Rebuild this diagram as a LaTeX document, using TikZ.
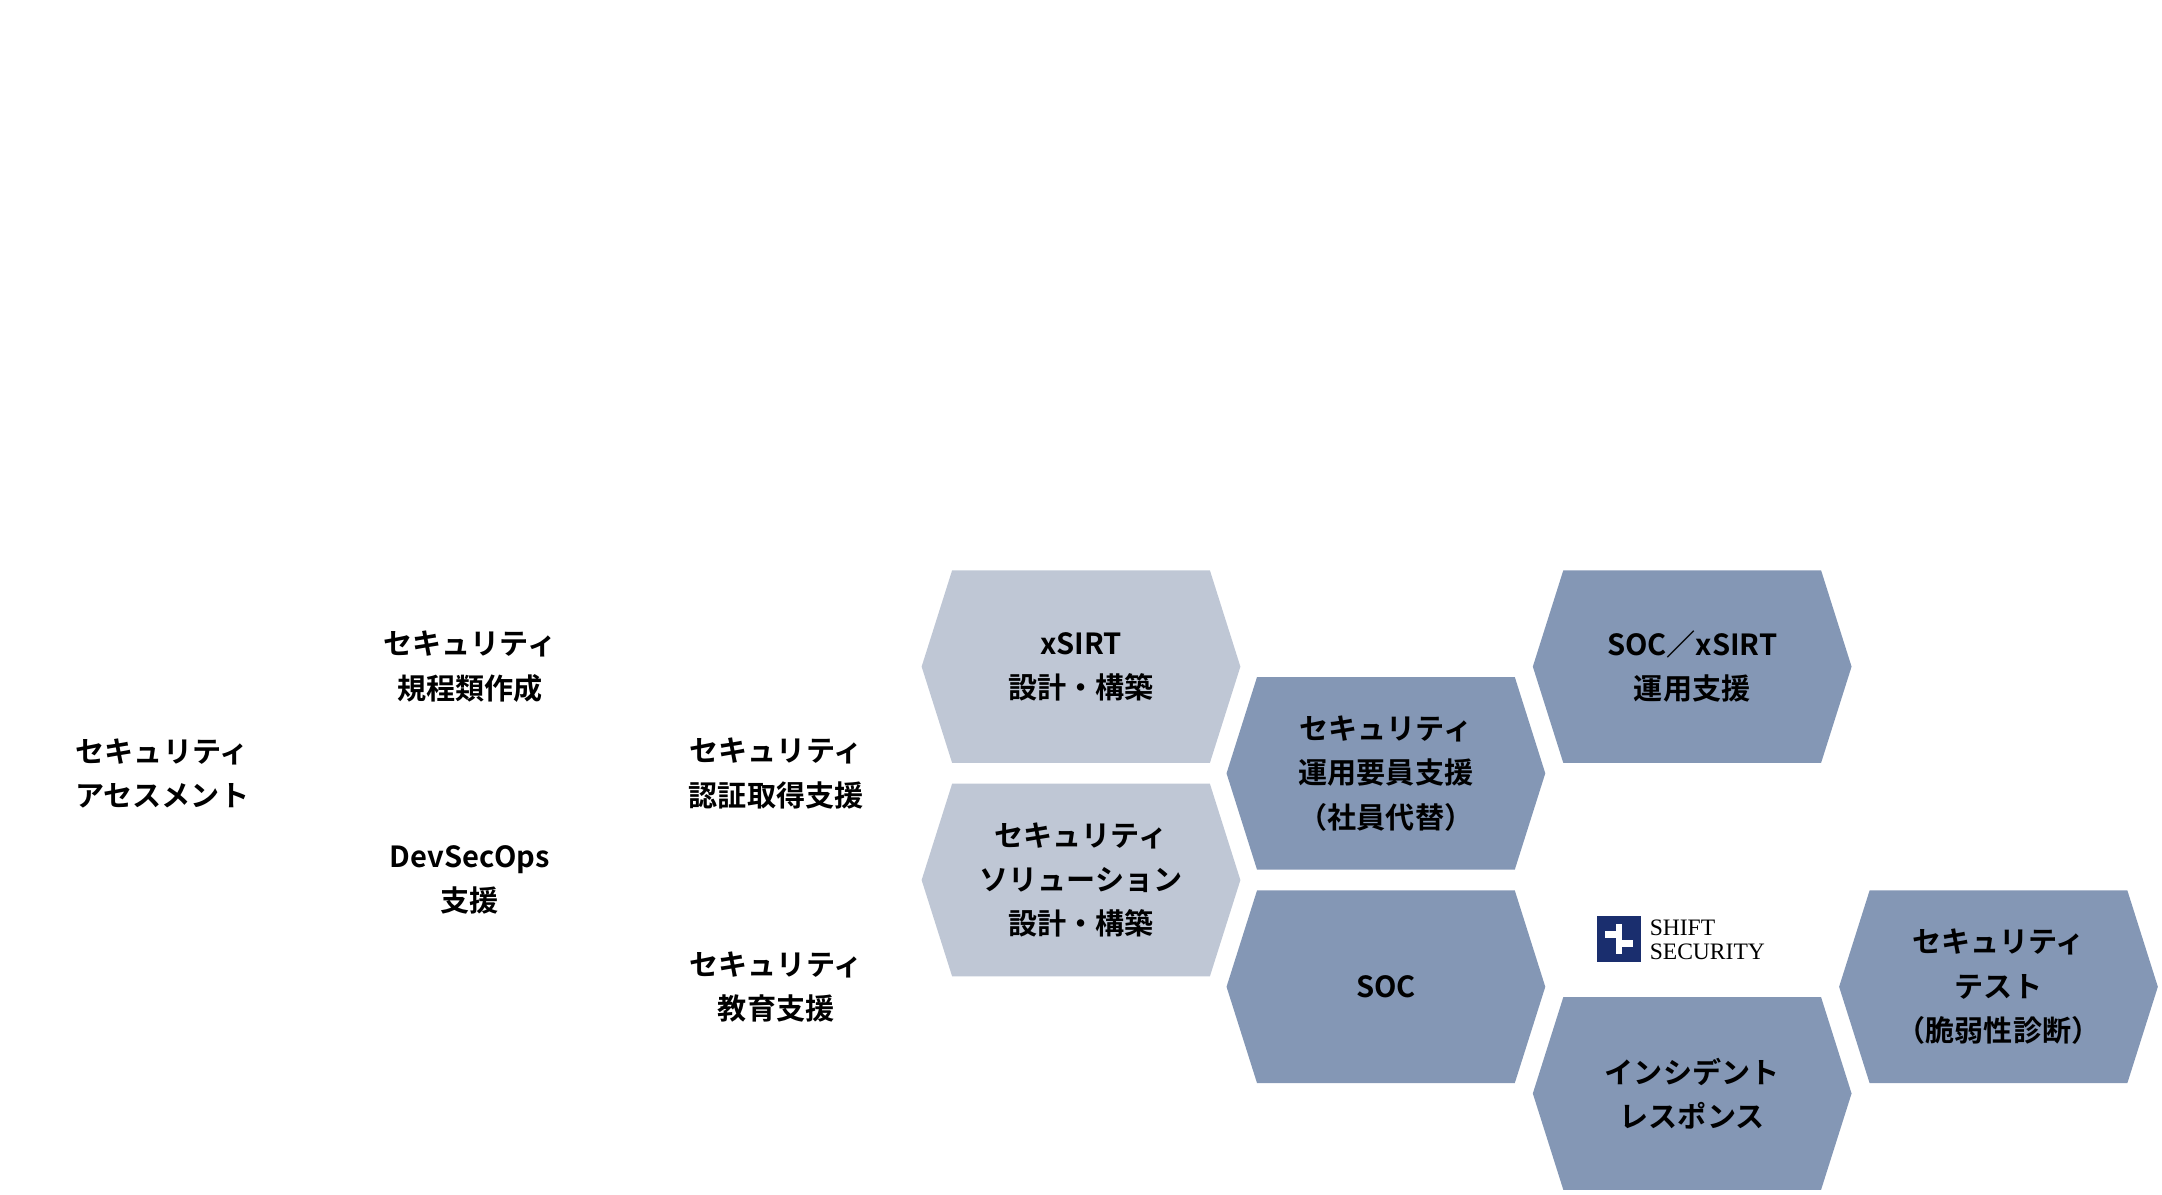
\documentclass[tikz,border=0pt]{standalone}
\usepackage{fontspec}
\setmainfont{Noto Sans CJK JP}[BoldFont={Noto Sans CJK JP Bold}]
\newfontfamily\logofont{Liberation Serif}
\usetikzlibrary{calc}
\definecolor{hexlight}{HTML}{BFC7D5}
\definecolor{hexdark}{HTML}{8497B5}
\definecolor{logonavy}{HTML}{1A2E6E}
\tikzset{every picture/.style={line width=0.75pt}}
\tikzset{
  label/.style={align=center,font=\fontsize{21}{32}\selectfont\bfseries,inner sep=0pt},
  hexlightbox/.style={fill=hexlight,draw=none},
  hexdarkbox/.style={fill=hexdark,draw=none}
}
% hexagon with pointed left and right ends
\newcommand{\hexcell}[4]{%
  \path[#3] ($(#2)+(-115,0)$) -- ++(22,-69.5) -- ++(186,0) -- ++(22,69.5) -- ++(-22,69.5) -- ++(-186,0) -- cycle;
  \node[label] (#1) at (#2) {#4};}

\begin{document}
\begin{tikzpicture}[x=1pt,y=-1pt]
\useasboundingbox (0,0) rectangle (1560,862);

% Hexagons
\hexcell{xsirt}{780,481}{hexlightbox}{xSIRT\\設計・構築}
\hexcell{solution}{780,635}{hexlightbox}{セキュリティ\\ソリューション\\設計・構築}
\hexcell{staff}{1000,558}{hexdarkbox}{セキュリティ\\運用要員支援\\（社員代替）}
\hexcell{socxsirt}{1221,481}{hexdarkbox}{SOC／xSIRT\\運用支援}
\hexcell{soc}{1000,712}{hexdarkbox}{SOC}
\hexcell{incident}{1221,789}{hexdarkbox}{インシデント\\レスポンス}
\hexcell{test}{1442,712}{hexdarkbox}{セキュリティ\\テスト\\（脆弱性診断）}

% Text Node
\node[label] (assess) at (117,558) {セキュリティ\\アセスメント};
\node[label] (rules) at (339,481) {セキュリティ\\規程類作成};
\node[label] (devsecops) at (339,635) {DevSecOps\\支援};
\node[label] (cert) at (560,558) {セキュリティ\\認証取得支援};
\node[label] (edu) at (560,712) {セキュリティ\\教育支援};

% Logo
\fill[logonavy] (1152,661) rectangle (1184,694);
\fill[white] (1158,672) rectangle (1166,677);
\fill[white] (1170,678) rectangle (1178,683);
\fill[white] (1166,667) rectangle (1170,688);
\node[anchor=west,align=left,inner sep=0pt,font=\logofont\fontsize{17}{17}\selectfont] (logo) at (1190,678) {SHIFT\\SECURITY};

\end{tikzpicture}
\end{document}
